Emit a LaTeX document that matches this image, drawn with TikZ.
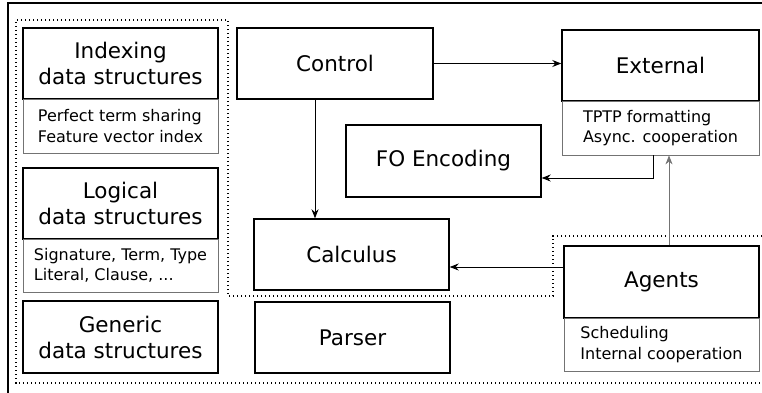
\documentclass[tikz,border=0pt]{standalone}
\usepackage{fontspec}
\setmainfont{DejaVu Sans}
\usetikzlibrary{calc,arrows.meta}
\tikzset{
  hdr/.style={draw, line width=1.4pt, minimum width=195pt, minimum height=71pt, inner sep=0pt, align=center, font=\fontsize{21.5}{26}\selectfont},
  sub/.style={draw=black!55, line width=0.8pt, minimum width=195pt, minimum height=54pt, inner sep=0pt, align=left, font=\fontsize{16}{20.5}\selectfont},
  conn/.style={line width=0.9pt, -{Stealth[length=9pt,width=7pt]}},
  dots/.style={line width=1.2pt, dash pattern=on 1.2pt off 2.8pt},
}
\begin{document}
\begin{tikzpicture}[x=1pt,y=-1pt]
\useasboundingbox (0,0) rectangle (762,393);
% outer frame
\draw[line width=1.1pt] (762,3) -- (8,3) -- (8,393);
% dotted regions
\draw[dots] (762,236) -- (553,236) -- (553,296) -- (228,296) -- (228,20) -- (16,20) -- (16,383) -- (762,383);
% left column
\node[hdr] (idx) at (120.5,63.5) {Indexing\\data structures};
\node[sub] (idxs) at (120.5,126) {Perfect term sharing\\Feature vector index};
\node[hdr] (log) at (120.5,203.5) {Logical\\data structures};
\node[sub, minimum height=53pt] (logs) at (120.5,265.5) {Signature, Term, Type\\Literal, Clause, ...};
\node[hdr, minimum height=72pt] (gen) at (120.5,337) {Generic\\data structures};
% middle
\node[hdr, minimum width=196pt] (ctrl) at (335,63.5) {Control};
\node[hdr, minimum height=72pt] (fo) at (443.5,161) {FO Encoding};
\node[hdr] (calc) at (351.5,254.5) {Calculus};
\node[hdr] (pars) at (352.5,337.5) {Parser};
% right
\node[hdr, minimum width=197pt] (ext) at (660.5,65.5) {External};
\node[sub, minimum width=197pt] (exts) at (660.5,128) {TPTP formatting\\Async. cooperation};
\node[hdr, minimum height=72pt] (ag) at (661.5,282) {Agents};
\node[sub, minimum height=53pt] (ags) at (661.5,344.5) {Scheduling\\Internal cooperation};
% connectors
\draw[conn] (ctrl.east |- 0,63.5) -- (ext.west |- 0,63.5);
\coordinate (c1) at ($(ctrl.south)+(-20,0)$);
\draw[conn] (c1) -- (c1 |- calc.north);
\coordinate (e1) at ($(exts.south)+(-7.5,0)$);
\draw[conn] (e1) |- ($(fo.east)+(0,17)$);
\coordinate (a1) at ($(ag.north)+(7.5,0)$);
\draw[conn, draw=black!55, fill=black] (a1) -- (a1 |- exts.south);
\coordinate (a2) at ($(ag.west)+(0,-15)$);
\draw[conn] (a2) -- (a2 -| calc.east);
\end{tikzpicture}
\end{document}
